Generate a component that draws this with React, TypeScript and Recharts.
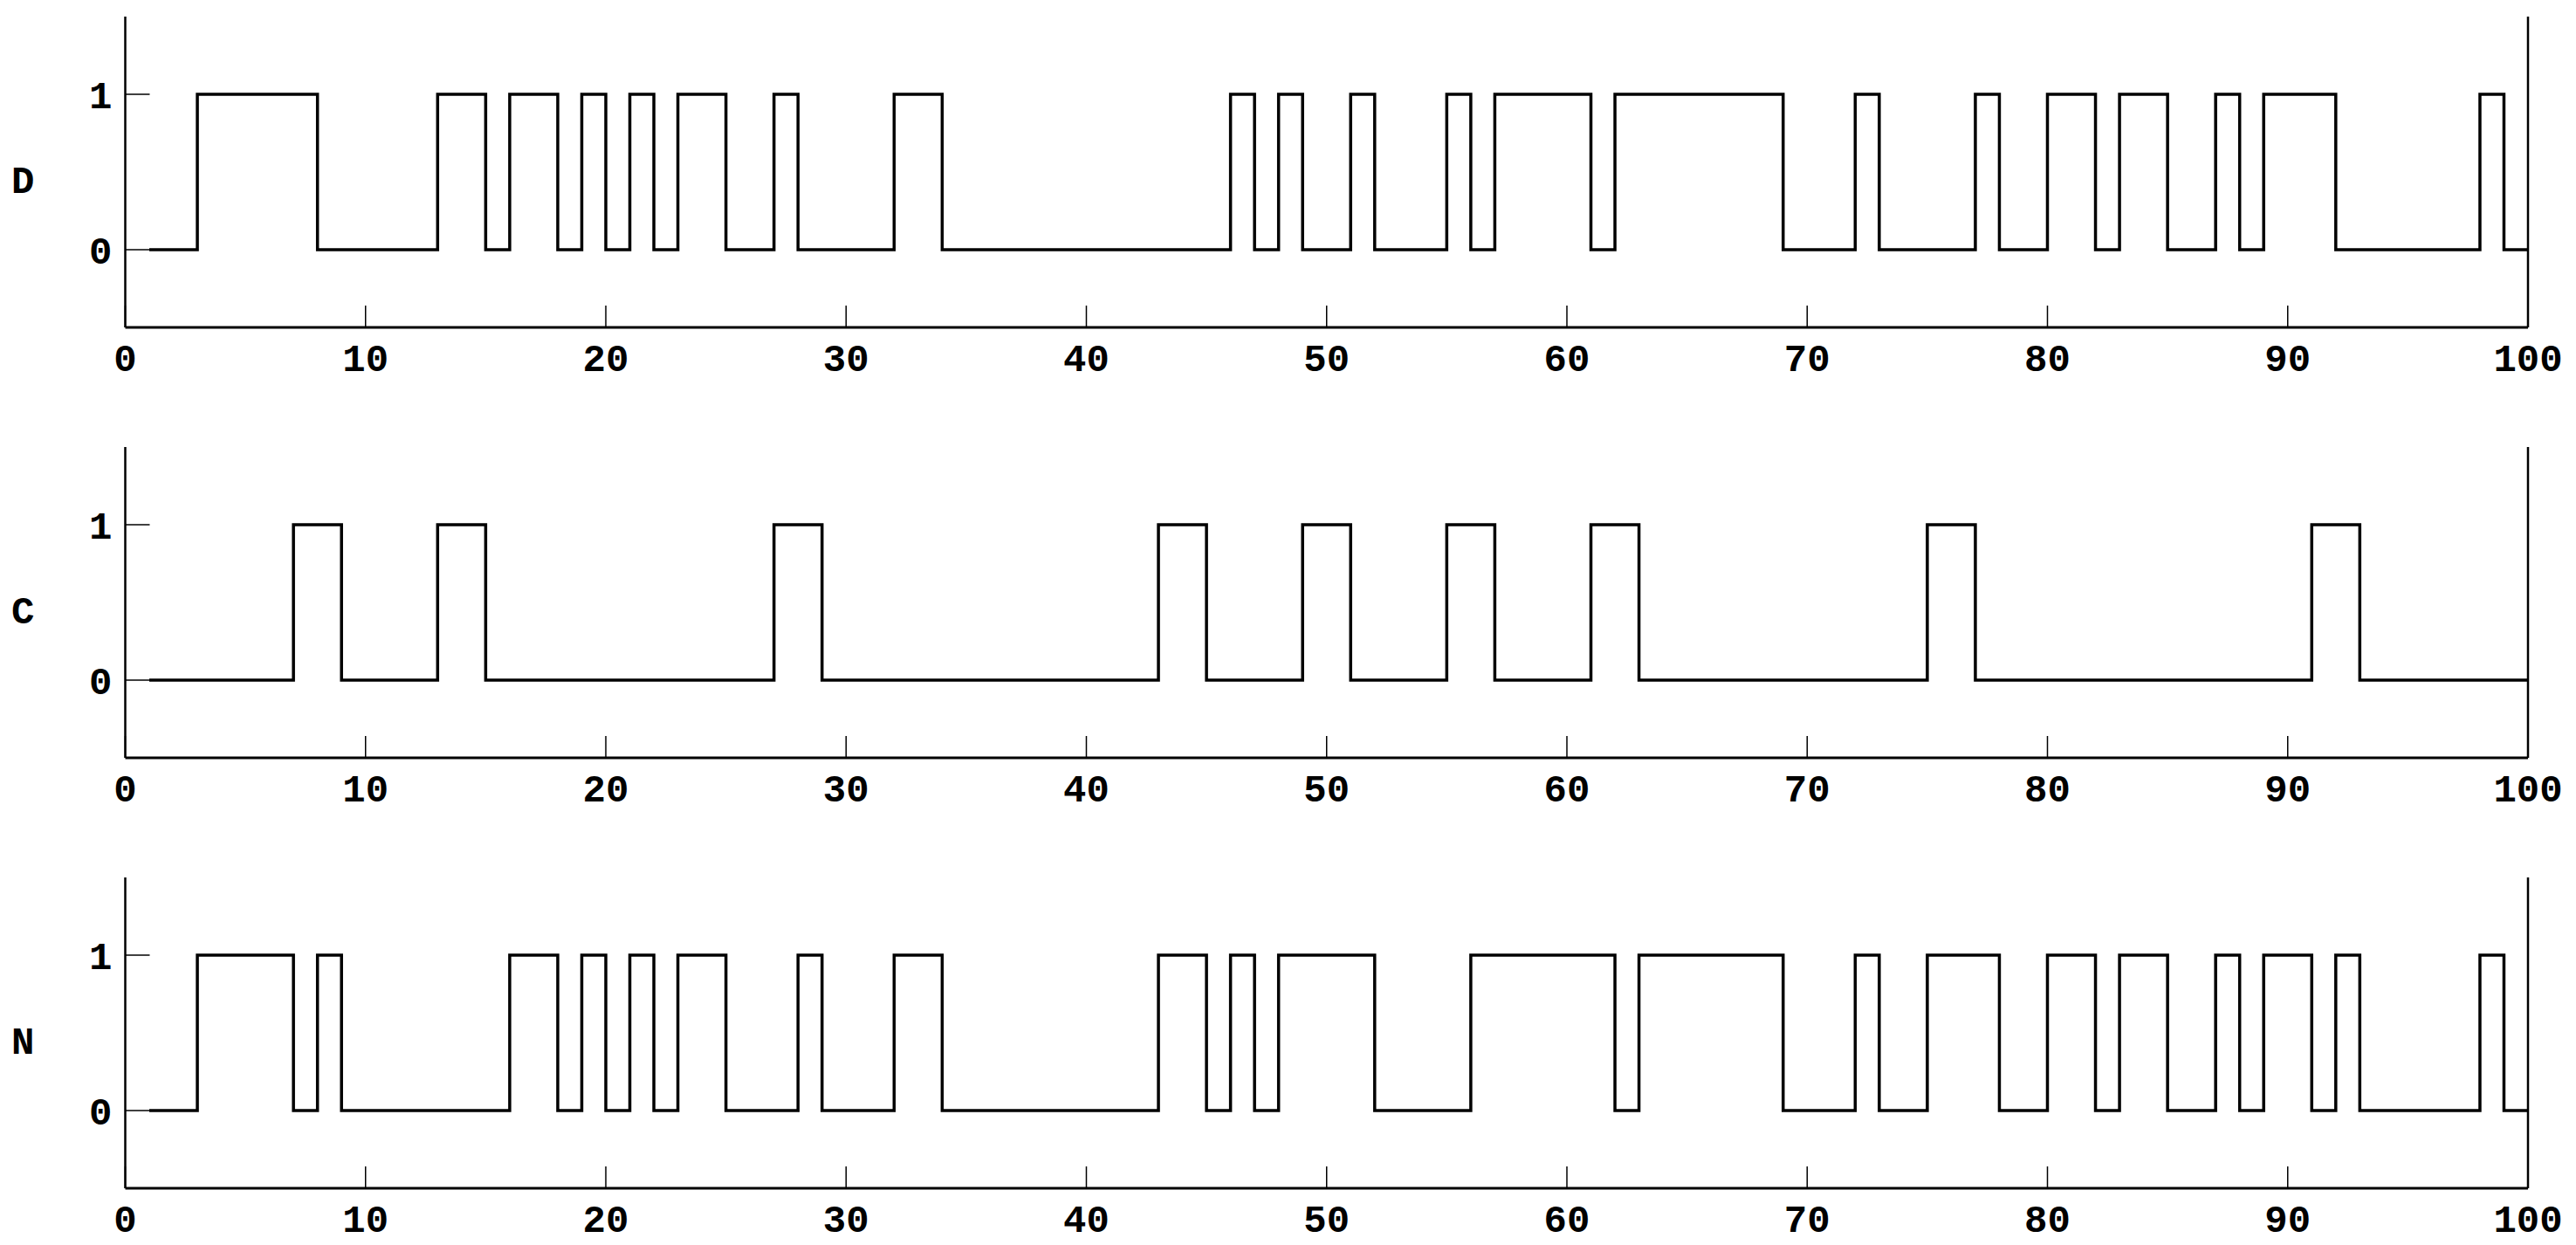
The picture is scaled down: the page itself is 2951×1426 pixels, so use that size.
import { Label, Line, LineChart, XAxis, YAxis } from "recharts";

// sample index 1..100, one value per step
const dSignal = [
  0, 0, 1, 1, 1, 1, 1, 0, 0, 0,
  0, 0, 1, 1, 0, 1, 1, 0, 1, 0,
  1, 0, 1, 1, 0, 0, 1, 0, 0, 0,
  0, 1, 1, 0, 0, 0, 0, 0, 0, 0,
  0, 0, 0, 0, 0, 1, 0, 1, 0, 0,
  1, 0, 0, 0, 1, 0, 1, 1, 1, 1,
  0, 1, 1, 1, 1, 1, 1, 1, 0, 0,
  0, 1, 0, 0, 0, 0, 1, 0, 0, 1,
  1, 0, 1, 1, 0, 0, 1, 0, 1, 1,
  1, 0, 0, 0, 0, 0, 0, 1, 0, 0,
];

const cSignal = [
  0, 0, 0, 0, 0, 0, 1, 1, 0, 0,
  0, 0, 1, 1, 0, 0, 0, 0, 0, 0,
  0, 0, 0, 0, 0, 0, 1, 1, 0, 0,
  0, 0, 0, 0, 0, 0, 0, 0, 0, 0,
  0, 0, 1, 1, 0, 0, 0, 0, 1, 1,
  0, 0, 0, 0, 1, 1, 0, 0, 0, 0,
  1, 1, 0, 0, 0, 0, 0, 0, 0, 0,
  0, 0, 0, 0, 1, 1, 0, 0, 0, 0,
  0, 0, 0, 0, 0, 0, 0, 0, 0, 0,
  1, 1, 0, 0, 0, 0, 0, 0, 0, 0,
];

const nSignal = [
  0, 0, 1, 1, 1, 1, 0, 1, 0, 0,
  0, 0, 0, 0, 0, 1, 1, 0, 1, 0,
  1, 0, 1, 1, 0, 0, 0, 1, 0, 0,
  0, 1, 1, 0, 0, 0, 0, 0, 0, 0,
  0, 0, 1, 1, 0, 1, 0, 1, 1, 1,
  1, 0, 0, 0, 0, 1, 1, 1, 1, 1,
  1, 0, 1, 1, 1, 1, 1, 1, 0, 0,
  0, 1, 0, 0, 1, 1, 1, 0, 0, 1,
  1, 0, 1, 1, 0, 0, 1, 0, 1, 1,
  0, 1, 0, 0, 0, 0, 0, 1, 0, 0,
];

const xTicks = [0, 10, 20, 30, 40, 50, 60, 70, 80, 90, 100];
const yTicks = [0, 1];

const panels = [
  { name: "D", values: dSignal },
  { name: "C", values: cSignal },
  { name: "N", values: nSignal },
];

const FONT = "'Liberation Mono', 'Courier New', monospace";
const tickFont = { fontFamily: FONT, fontSize: 44, fontWeight: 700, fill: "#000" };

function Panel({ name, values }: { name: string; values: number[] }) {
  const data = values.map((v, i) => ({ x: i + 1, v }));
  return (
    <LineChart
      width={2951}
      height={493}
      data={data}
      margin={{ top: 19, right: 0, bottom: 0, left: 0 }}
    >
      <XAxis
        dataKey="x"
        type="number"
        domain={[0, 100]}
        ticks={xTicks}
        height={118}
        interval={0}
        tickSize={-25}
        tickMargin={44}
        axisLine={{ stroke: "#000", strokeWidth: 3 }}
        tickLine={{ stroke: "#000", strokeWidth: 1.5 }}
        tick={tickFont}
      />
      <XAxis
        xAxisId="top"
        orientation="top"
        type="number"
        domain={[0, 100]}
        ticks={xTicks}
        height={0}
        interval={0}
        tickSize={-25}
        axisLine={{ stroke: "#000", strokeWidth: 3 }}
        tickLine={{ stroke: "#000", strokeWidth: 1.5 }}
        tick={() => <g />}
      />
      <YAxis
        type="number"
        domain={[-0.5, 1.5]}
        ticks={yTicks}
        width={143.5}
        interval={0}
        tickSize={-28}
        tickMargin={43}
        axisLine={{ stroke: "#000", strokeWidth: 2.5 }}
        tickLine={{ stroke: "#000", strokeWidth: 1.5 }}
        tick={tickFont}
      >
        <Label
          value={name}
          position="insideLeft"
          offset={13}
          dy={8}
          style={{ fontFamily: FONT, fontSize: 44, fontWeight: 700, fill: "#000" }}
        />
      </YAxis>
      <YAxis
        yAxisId="right"
        orientation="right"
        type="number"
        domain={[-0.5, 1.5]}
        ticks={yTicks}
        width={55}
        interval={0}
        tickSize={-28}
        axisLine={{ stroke: "#000", strokeWidth: 2.5 }}
        tickLine={{ stroke: "#000", strokeWidth: 1.5 }}
        tick={() => <g />}
      />
      <Line
        type="stepAfter"
        dataKey="v"
        stroke="#000"
        strokeWidth={3.5}
        dot={false}
        isAnimationActive={false}
      />
    </LineChart>
  );
}

export default function App() {
  return (
    <div style={{ position: "absolute", left: 0, top: 0, background: "#fff", width: 2951 }}>
      {panels.map((p) => (
        <Panel key={p.name} name={p.name} values={p.values} />
      ))}
    </div>
  );
}
